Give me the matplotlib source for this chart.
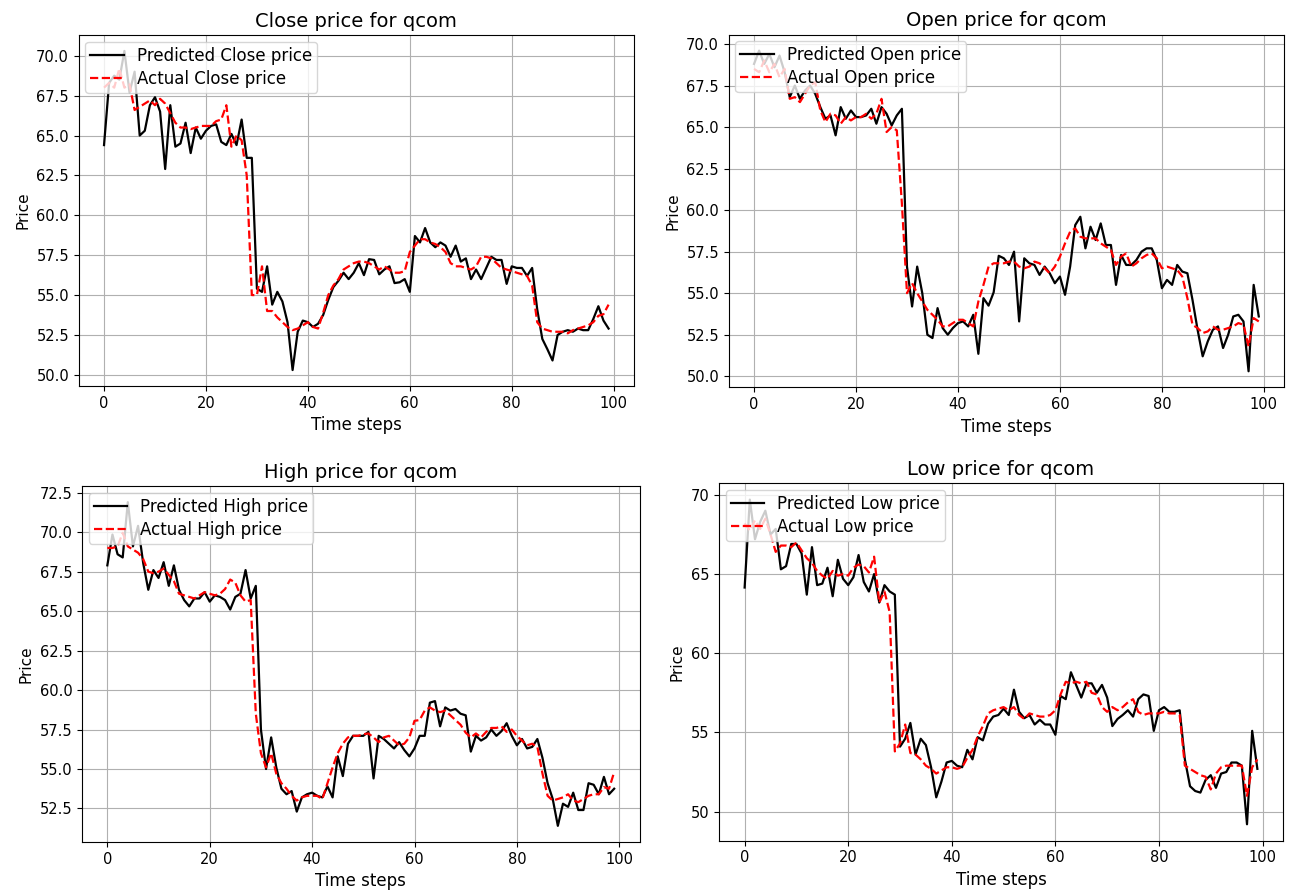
import numpy as np
import matplotlib
matplotlib.use("Agg")
import matplotlib.pyplot as plt
from matplotlib.ticker import MultipleLocator

TICKER = "qcom"
steps = np.arange(100)

close_pred = [64.4, 68.3, 68.75, 68.5, 70.3, 67.7, 69.0, 65.0, 65.3, 66.9,
              67.4, 66.5, 62.9, 66.9, 64.3, 64.5, 65.8, 63.9, 65.5, 64.8,
              65.3, 65.6, 65.7, 64.6, 64.4, 65.1, 64.4, 66.0, 63.6, 63.6,
              55.4, 55.2, 56.8, 54.4, 55.2, 54.6, 53.3, 50.3, 52.7, 53.4,
              53.3, 53.0, 53.2, 53.75, 54.7, 55.5, 55.9, 56.4, 56.0, 56.4,
              57.0, 56.25, 57.25, 57.2, 56.3, 56.6, 56.8, 55.75, 55.8, 56.0,
              55.2, 58.7, 58.3, 59.2, 58.3, 58.0, 58.3, 58.1, 57.4, 58.1,
              57.1, 57.3, 56.0, 56.6, 56.0, 56.7, 57.4, 57.2, 57.2, 55.7,
              56.8, 56.7, 56.7, 56.2, 56.7, 54.1, 52.25, 51.6, 50.9, 52.5,
              52.7, 52.8, 52.7, 52.9, 52.8, 52.8, 53.5, 54.3, 53.4, 52.9]
close_act = [68.0, 68.3, 68.0, 69.2, 68.0, 68.2, 66.6, 66.8, 67.0, 67.2,
             66.9, 67.3, 67.0, 66.4, 65.8, 65.5, 65.5, 65.4, 65.5, 65.6,
             65.6, 65.6, 65.9, 66.0, 66.9, 64.3, 65.0, 64.7, 62.5, 55.0,
             55.0, 56.8, 54.0, 54.0, 53.6, 53.3, 53.0, 52.8, 52.9, 53.1,
             53.3, 53.0, 52.9, 53.9, 55.0, 55.6, 56.0, 56.6, 56.8, 57.0,
             57.1, 57.1, 57.0, 56.8, 56.6, 56.8, 56.6, 56.4, 56.4, 56.5,
             57.7, 58.1, 58.5, 58.5, 58.3, 58.2, 58.0, 57.7, 57.0, 56.8,
             56.8, 56.7, 56.6, 56.8, 57.4, 57.4, 57.3, 57.0, 56.7, 56.6,
             56.5, 56.4, 56.3, 56.2, 55.6, 53.3, 52.9, 52.8, 52.7, 52.7,
             52.7, 52.6, 52.8, 52.9, 53.0, 53.1, 53.3, 53.7, 53.8, 54.4]

open_pred = [68.8, 69.6, 68.8, 69.4, 68.6, 69.3, 68.3, 66.8, 67.5, 66.7,
             67.2, 67.5, 67.0, 66.2, 65.5, 65.7, 64.5, 66.2, 65.5, 66.0,
             65.6, 65.6, 65.7, 66.1, 65.2, 66.2, 65.8, 65.1, 65.7, 66.1,
             56.6, 54.2, 56.6, 55.0, 52.5, 52.3, 54.1, 52.9, 52.5, 52.9,
             53.2, 53.3, 53.0, 53.7, 51.35, 54.7, 54.25, 55.05, 57.25, 57.1,
             56.7, 57.5, 53.3, 57.1, 56.8, 56.7, 56.1, 56.6, 56.2, 55.6,
             56.0, 54.9, 56.6, 59.1, 59.6, 57.7, 59.0, 58.2, 59.2, 57.9,
             57.9, 55.5, 57.3, 56.7, 56.7, 57.0, 57.5, 57.7, 57.7, 57.0,
             55.3, 55.8, 55.5, 56.7, 56.3, 56.2, 54.6, 52.8, 51.2, 52.1,
             52.8, 53.0, 51.7, 52.5, 53.6, 53.7, 53.3, 50.3, 55.5, 53.6]
open_act = [68.5, 68.3, 69.0, 68.3, 68.8, 68.0, 68.5, 66.7, 66.8, 66.5,
            67.0, 67.5, 67.7, 66.0, 65.3, 65.8, 65.7, 65.2, 65.6, 65.4,
            65.6, 65.6, 65.8, 65.5, 65.8, 66.7, 64.7, 65.0, 64.8, 60.4,
            55.0, 55.6, 55.0, 54.5, 54.0, 53.7, 53.4, 53.0, 53.0, 53.2,
            53.4, 53.4, 53.2, 53.0, 54.5, 55.5, 56.6, 56.8, 56.8, 56.8,
            56.9, 56.9, 56.6, 56.5, 56.6, 56.9, 56.8, 56.5, 56.2, 56.6,
            57.2, 58.0, 58.7, 58.9, 58.4, 58.3, 58.3, 58.3, 58.0, 57.8,
            57.6, 56.7, 57.2, 57.4, 56.6, 56.8, 57.1, 57.3, 57.4, 57.1,
            56.5, 56.6, 56.5, 56.4, 56.0, 54.7, 53.1, 52.9, 52.6, 52.7,
            53.0, 52.8, 52.8, 52.9, 53.0, 53.2, 53.1, 51.8, 53.5, 53.3]

high_pred = [67.9, 69.85, 68.6, 68.4, 71.9, 69.1, 70.4, 68.05, 66.35, 67.6,
             67.1, 68.1, 66.6, 67.9, 66.35, 65.7, 65.3, 65.8, 65.8, 66.2,
             65.6, 66.0, 65.9, 65.7, 65.1, 65.9, 66.1, 67.6, 65.8, 66.6,
             57.5, 55.0, 57.0, 55.1, 53.75, 53.4, 53.6, 52.3, 53.2, 53.4,
             53.5, 53.3, 53.2, 53.9, 53.2, 55.8, 54.55, 56.6, 57.1, 57.1,
             57.1, 57.35, 54.4, 57.1, 56.9, 56.6, 56.3, 56.7, 56.2, 55.8,
             56.3, 57.1, 57.1, 59.2, 59.3, 57.7, 58.9, 58.7, 58.8, 58.5,
             58.4, 56.1, 57.1, 56.8, 57.0, 57.5, 57.1, 57.4, 57.9, 57.1,
             56.5, 56.9, 56.3, 56.4, 56.9, 55.7, 54.1, 53.1, 51.4, 52.8,
             52.6, 53.5, 52.4, 52.4, 54.1, 54.0, 53.4, 54.5, 53.4, 53.75]
high_act = [69.0, 69.0, 69.1, 69.96, 69.1, 68.9, 68.7, 68.3, 67.5, 67.4,
            67.5, 67.7, 67.3, 66.9, 66.1, 66.0, 65.9, 65.8, 66.0, 66.2,
            66.1, 66.0, 66.1, 66.4, 67.0, 66.8, 66.0, 65.6, 65.7, 58.5,
            56.0, 55.1, 56.0, 54.7, 54.1, 53.75, 53.3, 53.0, 53.2, 53.3,
            53.3, 53.3, 53.1, 54.1, 55.1, 56.0, 56.6, 57.0, 57.1, 57.1,
            57.2, 57.25, 57.0, 56.7, 57.0, 57.1, 56.8, 56.5, 56.6, 57.0,
            58.05, 58.1, 58.7, 58.9, 58.7, 58.6, 58.7, 58.4, 58.1, 57.8,
            57.3, 57.0, 57.25, 57.0, 57.35, 57.6, 57.6, 57.7, 57.35, 57.5,
            57.1, 56.8, 56.5, 56.6, 56.4, 54.7, 53.3, 53.0, 53.1, 53.2,
            53.4, 53.0, 52.9, 53.1, 53.3, 53.4, 53.4, 53.85, 53.75, 54.8]

low_pred = [64.15, 69.7, 67.2, 68.3, 69.0, 67.5, 67.85, 65.3, 65.5, 66.9,
            66.9, 66.3, 63.7, 66.7, 64.3, 64.4, 65.4, 63.6, 65.9, 64.7,
            64.3, 64.8, 66.2, 64.5, 63.9, 65.0, 63.2, 64.3, 63.9, 63.7,
            54.1, 54.6, 55.6, 53.6, 54.6, 54.2, 52.8, 50.9, 51.9, 53.1,
            53.2, 52.9, 52.8, 53.9, 53.3, 54.7, 54.5, 55.55, 56.0, 56.1,
            56.5, 56.1, 57.7, 56.3, 55.9, 56.1, 55.5, 55.8, 55.5, 55.5,
            54.85, 57.3, 57.1, 58.8, 58.0, 57.2, 58.1, 58.1, 57.5, 58.0,
            57.2, 55.4, 55.85, 56.1, 56.4, 56.0, 57.1, 57.4, 57.3, 55.1,
            56.4, 56.6, 56.3, 56.3, 56.4, 53.3, 51.6, 51.3, 51.2, 52.0,
            52.3, 51.5, 52.4, 52.5, 53.1, 53.1, 52.9, 49.2, 55.1, 52.7]
low_act = [68.2, 67.75, 68.4, 67.85, 68.5, 67.5, 66.4, 66.8, 66.8, 66.7,
           67.0, 66.5, 66.0, 65.7, 65.2, 64.9, 64.7, 65.2, 64.9, 65.0,
           64.9, 65.4, 65.6, 65.5, 65.1, 66.1, 63.2, 63.9, 62.6, 53.8,
           54.3, 55.5, 53.7, 53.6, 53.3, 52.9, 52.7, 52.4, 52.6, 52.8,
           52.8, 52.7, 52.8, 53.4, 53.9, 54.75, 55.4, 56.2, 56.4, 56.5,
           56.6, 56.4, 56.6, 56.1, 55.85, 56.2, 56.1, 56.0, 56.0, 56.1,
           56.4, 57.4, 58.2, 58.1, 58.2, 58.1, 58.2, 57.5, 57.4, 56.6,
           56.3, 56.6, 56.4, 56.6, 56.9, 57.1, 56.3, 56.1, 56.2, 56.2,
           56.2, 56.3, 56.2, 56.2, 56.1, 52.9, 52.7, 52.5, 52.3, 52.2,
           51.4, 52.4, 52.8, 52.9, 52.9, 52.9, 52.9, 51.0, 52.8, 53.3]

W, H = 1291, 892
# panel boxes in pixels: left, right, top, bottom
boxes = {
    "Close": (78.8, 633.8, 35.0, 386.0),
    "Open":  (728.8, 1284.0, 34.6, 387.3),
    "High":  (82.0, 639.5, 486.0, 842.0),
    "Low":   (719.0, 1283.0, 483.4, 840.5),
}
series = {
    "Close": (close_pred, close_act),
    "Open":  (open_pred, open_act),
    "High":  (high_pred, high_act),
    "Low":   (low_pred, low_act),
}
# y tick spacing per panel
ystep = {"Close": 2.5, "Open": 2.5, "High": 2.5, "Low": 5}

fig = plt.figure(figsize=(W / 100, H / 100), dpi=100)

for name, (l, r, t, b) in boxes.items():
    ax = fig.add_axes([l / W, 1 - b / H, (r - l) / W, (b - t) / H])
    pred, act = series[name]
    ax.plot(steps, pred, color="black", lw=1.6, label=f"Predicted {name} price")
    ax.plot(steps, act, color="red", ls="--", lw=1.6, label=f"Actual {name} price")
    ax.set_title(f"{name} price for {TICKER}", fontsize=14)
    ax.set_xlabel("Time steps", fontsize=12)
    ax.set_ylabel("Price", fontsize=11)
    ax.yaxis.set_major_locator(MultipleLocator(ystep[name]))
    ax.tick_params(labelsize=10.5)
    ax.grid(True)
    ax.legend(loc="upper left", fontsize=12, borderaxespad=0.4,
              handlelength=2.0, borderpad=0.3, labelspacing=0.3)

fig.savefig("out.png", dpi=100)
